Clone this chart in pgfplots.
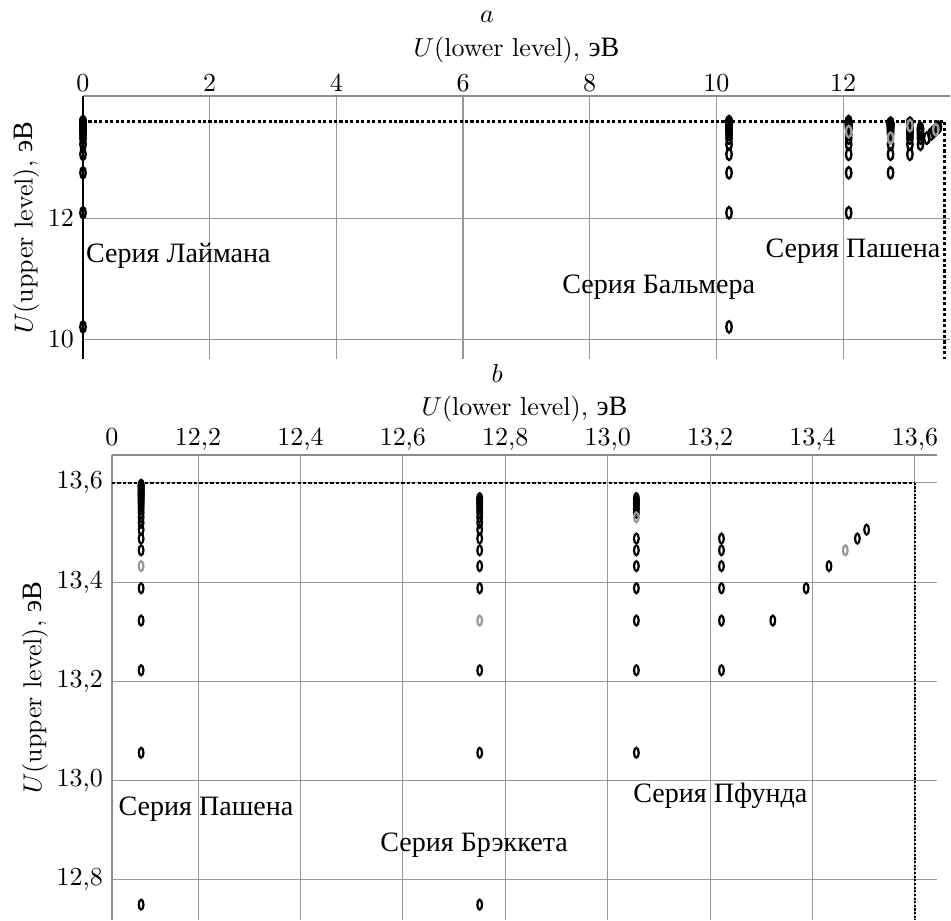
\documentclass[border=0pt]{standalone}
\usepackage{fontspec}
\newfontfamily\cyrfont[Scale=1.08]{Liberation Serif}
\usepackage{pgfplots}
\pgfplotsset{compat=1.18}
\newcommand{\cyr}[1]{{\cyrfont #1}}
\newcommand{\eV}{\cyr{эВ}}
\pgfdeclareplotmark{ovalA}{\pgfpathellipse{\pgfpointorigin}{\pgfqpoint{1.05pt}{0pt}}{\pgfqpoint{0pt}{2.2pt}}\pgfusepathqstroke}
\pgfdeclareplotmark{ovalB}{\pgfpathellipse{\pgfpointorigin}{\pgfqpoint{0.9pt}{0pt}}{\pgfqpoint{0pt}{1.9pt}}\pgfusepathqstroke}
\tikzset{lab/.style={anchor=base west, inner sep=0pt}}
\pgfplotsset{hstyle/.style={scale only axis, axis x line*=top, axis y line*=left,
  axis line style={-, black!45}, major tick length=0pt, grid=major,
  major grid style={black!40, line width=0.4pt},
  xlabel={$U$(lower level), \eV}, ylabel={$U$(upper level), \eV},
  xticklabel shift=-1.9pt, ylabel shift=-3.5pt,
  clip=false},
  ptA/.style={only marks, mark=ovalA, line width=0.9pt, black},
  ptB/.style={only marks, mark=ovalB, line width=0.85pt, black}}
\begin{document}
\begin{tikzpicture}
\useasboundingbox (0,0) rectangle (366pt,-354.07pt);
\node at (187.4pt,-6.5pt) {$a$};
\node at (191.3pt,-143.6pt) {$b$};
% ---------------- panel a ----------------
\begin{axis}[hstyle, at={(31.94pt,-36.95pt)}, anchor=north west,
  width=333.7pt, height=101.2pt, xmin=0, xmax=13.69, ymin=9.67, ymax=14.02,
  xtick={0,2,4,6,8,10,12}, ytick={10,12}, xlabel shift=-2.4pt,
  y axis line style={black, line width=0.8pt}]
\addplot[black, line width=1.1pt, dash pattern=on 1.2pt off 0.9pt] coordinates {(0,13.6) (13.6,13.6) (13.6,9.67)};
% Lyman
\addplot[ptA] coordinates {(0,10.2) (0,12.0889) (0,12.75) (0,13.056) (0,13.2222) (0,13.3224) (0,13.3875) (0,13.4321) (0,13.464) (0,13.4876) (0,13.5056) (0,13.5195) (0,13.5306) (0,13.5396) (0,13.5469) (0,13.5529) (0,13.558) (0,13.5623) (0,13.566) (0,13.5719) (0,13.5782) (0,13.5849) (0,13.5915) (0,13.5962)};
% Balmer
\addplot[ptA] coordinates {(10.2,10.2) (10.2,12.0889) (10.2,12.75) (10.2,13.056) (10.2,13.2222) (10.2,13.3224) (10.2,13.3875) (10.2,13.4321) (10.2,13.464) (10.2,13.4876) (10.2,13.5056) (10.2,13.5195) (10.2,13.5306) (10.2,13.5396) (10.2,13.5469) (10.2,13.5529) (10.2,13.558) (10.2,13.5623) (10.2,13.566) (10.2,13.5719) (10.2,13.5782) (10.2,13.5849) (10.2,13.5915) (10.2,13.5962)};
% Paschen
\addplot[ptA] coordinates {(12.0889,12.0889) (12.0889,12.75) (12.0889,13.056) (12.0889,13.2222) (12.0889,13.3224) (12.0889,13.3875) (12.0889,13.464) (12.0889,13.4876) (12.0889,13.5056) (12.0889,13.5195) (12.0889,13.5306) (12.0889,13.5396) (12.0889,13.5469) (12.0889,13.5529) (12.0889,13.558) (12.0889,13.5623) (12.0889,13.566) (12.0889,13.5719) (12.0889,13.5782) (12.0889,13.5849) (12.0889,13.5915) (12.0889,13.5962)};
% Brackett
\addplot[ptA] coordinates {(12.75,12.75) (12.75,13.056) (12.75,13.2222) (12.75,13.3875) (12.75,13.4321) (12.75,13.464) (12.75,13.4876) (12.75,13.5056) (12.75,13.5195) (12.75,13.5306) (12.75,13.5396) (12.75,13.5469) (12.75,13.5529) (12.75,13.558) (12.75,13.5623) (12.75,13.566) (12.75,13.5719)};
% Pfund
\addplot[ptA] coordinates {(13.056,13.056) (13.056,13.2222) (13.056,13.3224) (13.056,13.3875) (13.056,13.4321) (13.056,13.464) (13.056,13.4876) (13.056,13.5396) (13.056,13.5469) (13.056,13.5529) (13.056,13.558) (13.056,13.5623) (13.056,13.566) (13.056,13.5692)};
% Humphreys and beyond
\addplot[ptA] coordinates {(13.2222,13.2222) (13.2222,13.3224) (13.2222,13.3875) (13.2222,13.4321) (13.2222,13.464) (13.2222,13.4876) (13.3224,13.3224) (13.3875,13.3875) (13.4321,13.4321) (13.4876,13.4876) (13.5056,13.5056)};
\addplot[ptA, black!40] coordinates {(12.0889,13.4321) (12.75,13.3224) (13.056,13.5306) (13.464,13.464)};
\node[lab] at (axis cs:0.04,11.27) {\cyr{Серия Лаймана}};
\node[lab] at (axis cs:7.56,10.76) {\cyr{Серия Бальмера}};
\node[lab] at (axis cs:10.77,11.355) {\cyr{Серия Пашена}};
\end{axis}
% ---------------- panel b ----------------
\begin{axis}[hstyle, at={(43.10pt,-175.11pt)}, anchor=north west,
  width=317.5pt, height=178.96pt, xmin=12.032, xmax=13.643, ymin=12.719, ymax=13.656,
  xlabel shift=-4.6pt,
  xtick={12.032,12.2,12.4,12.6,12.8,13.0,13.2,13.4,13.6},
  xticklabels={{0\vphantom{,}},12{,}2,12{,}4,12{,}6,12{,}8,13{,}0,13{,}2,13{,}4,13{,}6},
  ytick={12.8,13.0,13.2,13.4,13.6},
  yticklabels={12{,}8,13{,}0,13{,}2,13{,}4,13{,}6}]
\addplot[black, line width=0.8pt, dash pattern=on 1.3pt off 0.8pt] coordinates {(12.032,13.6) (13.6,13.6)};
\addplot[black, line width=1pt, dash pattern=on 0.8pt off 0.6pt] coordinates {(13.6,13.6) (13.6,12.719)};
% Paschen
\addplot[ptB] coordinates {(12.0889,12.75) (12.0889,13.056) (12.0889,13.2222) (12.0889,13.3224) (12.0889,13.3875) (12.0889,13.464) (12.0889,13.4876) (12.0889,13.5056) (12.0889,13.5195) (12.0889,13.5306) (12.0889,13.5396) (12.0889,13.5469) (12.0889,13.5529) (12.0889,13.558) (12.0889,13.5623) (12.0889,13.566) (12.0889,13.5692) (12.0889,13.5719) (12.0889,13.5743) (12.0889,13.5764) (12.0889,13.5782) (12.0889,13.5799) (12.0889,13.5827) (12.0889,13.5849) (12.0889,13.5875) (12.0889,13.5895) (12.0889,13.5915) (12.0889,13.5933) (12.0889,13.5946) (12.0889,13.5962)};
% Brackett
\addplot[ptB] coordinates {(12.75,12.75) (12.75,13.056) (12.75,13.2222) (12.75,13.3875) (12.75,13.4321) (12.75,13.464) (12.75,13.4876) (12.75,13.5056) (12.75,13.5195) (12.75,13.5306) (12.75,13.5396) (12.75,13.5469) (12.75,13.5529) (12.75,13.558) (12.75,13.5623) (12.75,13.566) (12.75,13.5692)};
% Pfund
\addplot[ptB] coordinates {(13.056,13.056) (13.056,13.2222) (13.056,13.3224) (13.056,13.3875) (13.056,13.4321) (13.056,13.464) (13.056,13.4876) (13.056,13.5396) (13.056,13.5469) (13.056,13.5529) (13.056,13.558) (13.056,13.5623) (13.056,13.566) (13.056,13.5692)};
% Humphreys and beyond
\addplot[ptB] coordinates {(13.2222,13.2222) (13.2222,13.3224) (13.2222,13.3875) (13.2222,13.4321) (13.2222,13.464) (13.2222,13.4876) (13.3224,13.3224) (13.3875,13.3875) (13.4321,13.4321) (13.4876,13.4876) (13.5056,13.5056)};
\addplot[ptB, black!40] coordinates {(12.0889,13.4321) (12.75,13.3224) (13.056,13.5306) (13.464,13.464)};
\node[lab] at (axis cs:12.044,12.929) {\cyr{Серия Пашена}};
\node[lab] at (axis cs:12.555,12.857) {\cyr{Серия Брэккета}};
\node[lab] at (axis cs:13.049,12.956) {\cyr{Серия Пфунда}};
\end{axis}
\end{tikzpicture}
\end{document}
